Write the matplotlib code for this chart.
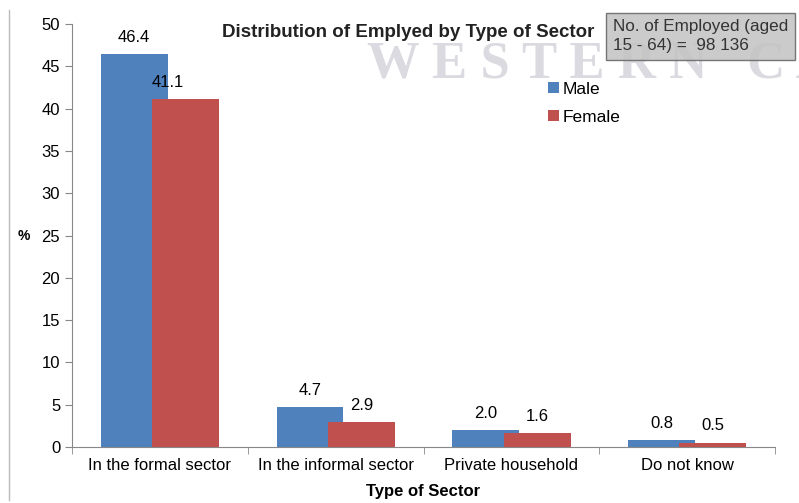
import numpy as np
import matplotlib.pyplot as plt
import matplotlib as mpl

mpl.rcParams['font.family'] = ['Liberation Sans', 'DejaVu Sans']

sectors = ['In the formal sector', 'In the informal sector', 'Private household', 'Do not know']
male = [46.4, 4.7, 2.0, 0.8]
female = [41.1, 2.9, 1.6, 0.5]

male_col = '#4F81BD'
female_col = '#C0504D'

fig = plt.figure(figsize=(7.99, 5.03), dpi=100)
ax = fig.add_axes([0.0901, 0.1113, 0.880, 0.841])

# faint watermark behind the plot
fig.text(0.459, 0.845, 'W E S T E R N   C A', family='Liberation Serif', fontsize=38,
         fontweight='bold', color='#dadae0', va='baseline', zorder=0)

x = np.arange(len(sectors))
w = 0.38
off = 0.146
ax.bar(x - off, male, w, color=male_col, label='Male', zorder=2)
ax.bar(x + off, female, w, color=female_col, label='Female', zorder=3)

for i in range(len(sectors)):
    ax.text(x[i] - off, male[i] + 1.1, f'{male[i]:.1f}', ha='center', va='bottom', fontsize=12)
    fx = x[i] + off - (0.1 if i == 0 else 0)
    ax.text(fx, female[i] + 1.1, f'{female[i]:.1f}', ha='center', va='bottom', fontsize=12)

ax.set_xlim(-0.5, len(sectors) - 0.5)
ax.set_ylim(0, 50)
ax.set_yticks(np.arange(0, 51, 5))
ax.set_xticks(x)
ax.set_xticklabels(sectors, fontsize=12)
ax.set_xticks(np.arange(-0.5, len(sectors), 1), minor=True)
ax.tick_params(axis='x', which='major', length=0, pad=8)
ax.tick_params(axis='x', which='minor', length=5, color='#888888')
ax.tick_params(axis='y', labelsize=12, length=5, color='#888888')
for s in ['top', 'right']:
    ax.spines[s].set_visible(False)
ax.spines['left'].set_color('#888888')
ax.spines['bottom'].set_color('#888888')
ax.patch.set_alpha(0)

ax.set_xlabel('Type of Sector', fontsize=12, fontweight='bold', labelpad=8)
ax.set_ylabel('%', fontsize=10, fontweight='bold', rotation=0, va='center', ha='center')
ax.yaxis.set_label_coords(-0.069, 0.5)

fig.text(0.511, 0.936, 'Distribution of Emplyed by Type of Sector', ha='center', va='center',
         fontsize=13.5, fontweight='bold', color='#222222')

ax.legend(loc='upper left', bbox_to_anchor=(0.655, 0.9), frameon=False, fontsize=12.5,
          handlelength=0.6, handleheight=0.6, handletextpad=0.25, labelspacing=0.75)

fig.text(0.767, 0.928, 'No. of Employed (aged\n15 - 64) =  98 136', ha='left', va='center',
         fontsize=12.3, color='#333333', linespacing=1.3,
         bbox=dict(boxstyle='square,pad=0.4', facecolor='#c4c4c4', edgecolor='#666666', alpha=0.88))

# outer chart border on the left
fig.add_artist(mpl.lines.Line2D([0.011, 0.011], [0.005, 0.98], color='#bbbbbb', lw=1))

fig.savefig('out.png', dpi=100)
